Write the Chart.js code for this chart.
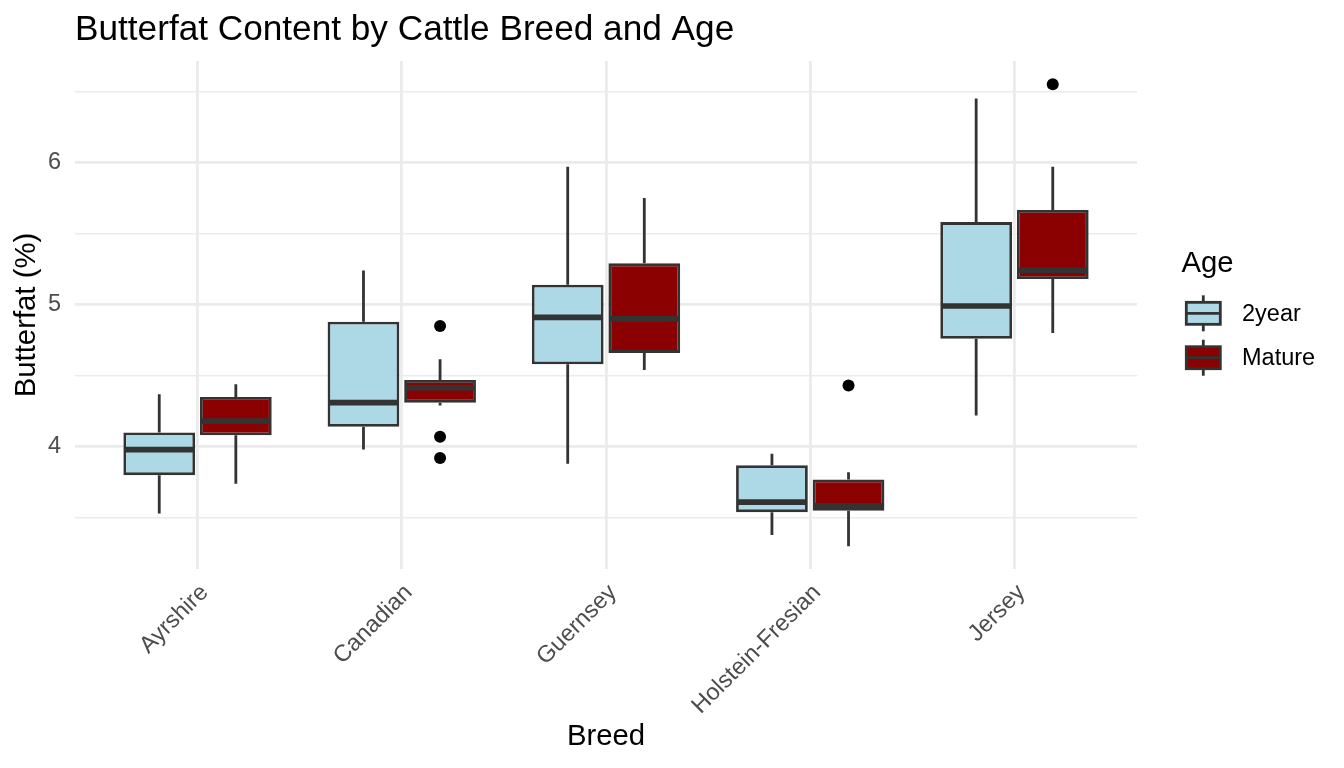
<!DOCTYPE html>
<html lang="en">
<head>
<meta charset="utf-8">
<title>Butterfat Content by Cattle Breed and Age</title>
<script src="https://cdn.jsdelivr.net/npm/chart.js"></script>
<style>
    html, body {
        margin: 0;
        padding: 0;
        background: #ffffff;
    }

    .chart-wrap {
        width: 1344px;
        height: 768px;
    }
</style>
</head>
<body>
<div class="chart-wrap">
    <canvas id="butterfatChart"></canvas>
</div>

<script>
    // categories
    const breeds = ['Ayrshire', 'Canadian', 'Guernsey', 'Holstein-Fresian', 'Jersey'];
    const ages = ['2year', 'Mature'];

    // box summaries, 2year cows
    const lo2year  = [3.53, 3.98, 3.88, 3.38, 4.22];
    const q1_2year = [3.80, 4.14, 4.58, 3.54, 4.76];
    const med2year = [3.98, 4.31, 4.91, 3.61, 4.99];
    const q3_2year = [4.10, 4.88, 5.14, 3.87, 5.58];
    const hi2year  = [4.37, 5.24, 5.97, 3.95, 6.45];
    const out2year = [[], [], [], [], []];

    // box summaries, mature cows
    const loMature  = [3.74, 4.29, 4.54, 3.30, 4.80];
    const q1Mature  = [4.08, 4.31, 4.66, 3.55, 5.18];
    const medMature = [4.18, 4.415, 4.90, 3.585, 5.24];
    const q3Mature  = [4.35, 4.47, 5.29, 3.77, 5.665];
    const hiMature  = [4.44, 4.615, 5.75, 3.82, 5.97];
    const outMature = [[], [4.85, 4.07, 3.92], [], [4.43], [6.55]];

    // y axis gridlines and labels
    const yGrid = [3.5, 4, 4.5, 5, 5.5, 6, 6.5];
    const yLabels = [4, 5, 6];

    const ageColors = ['#ADD8E6', '#8B0000'];
    const lineColor = '#333333';
    const dodge = 0.1875;        // half of the dodge width
    const halfBox = 0.16875;     // half box width in category units
    const lineW = 2.8;

    Chart.defaults.font.family = '"Liberation Sans", Arial, sans-serif';

    const summaries = [
        { lo: lo2year, q1: q1_2year, med: med2year, q3: q3_2year, hi: hi2year, out: out2year },
        { lo: loMature, q1: q1Mature, med: medMature, q3: q3Mature, hi: hiMature, out: outMature }
    ];

    const boxSets = [], whiskerSets = [], medianSets = [], outlierSets = [];

    summaries.forEach((s, a) => {
        const shift = a === 0 ? -dodge : dodge;
        const xs = breeds.map((b, i) => i + 1 + shift);

        boxSets.push({
            type: 'bar',
            label: ages[a],
            data: xs.map((x, i) => ({ x: x, y: [s.q1[i], s.q3[i]] })),
            backgroundColor: ageColors[a],
            borderColor: lineColor,
            borderWidth: lineW,
            borderSkipped: false,
            grouped: false,
            barPercentage: 0.937,
            categoryPercentage: 1,
            order: 2
        });

        const whisk = [];
        xs.forEach((x, i) => {
            whisk.push({ x: x, y: s.q3[i] }, { x: x, y: s.hi[i] }, { x: x, y: null });
            whisk.push({ x: x, y: s.q1[i] }, { x: x, y: s.lo[i] }, { x: x, y: null });
        });
        whiskerSets.push({
            type: 'line',
            label: ages[a] + ' whiskers',
            data: whisk,
            borderColor: lineColor,
            borderWidth: lineW,
            pointRadius: 0,
            spanGaps: false,
            order: 3
        });

        const med = [];
        xs.forEach((x, i) => {
            med.push({ x: x - halfBox, y: s.med[i] }, { x: x + halfBox, y: s.med[i] }, { x: x + halfBox, y: null });
        });
        medianSets.push({
            type: 'line',
            label: ages[a] + ' median',
            data: med,
            borderColor: lineColor,
            borderWidth: 5.7,
            borderCapStyle: 'butt',
            pointRadius: 0,
            spanGaps: false,
            order: 1
        });

        const pts = [];
        xs.forEach((x, i) => s.out[i].forEach(v => pts.push({ x: x, y: v })));
        outlierSets.push({
            type: 'line',
            label: ages[a] + ' outliers',
            data: pts,
            showLine: false,
            pointRadius: 6,
            pointBackgroundColor: '#000000',
            pointBorderWidth: 0,
            order: 0
        });
    });

    // ggplot style legend drawn to the right of the panel
    const ageLegend = {
        id: 'ageLegend',
        afterDraw(chart) {
            const { ctx, chartArea } = chart;
            const x0 = chartArea.right;
            const cy = (chartArea.top + chartArea.bottom) / 2;
            ctx.save();
            ctx.textAlign = 'left';
            ctx.textBaseline = 'middle';
            ctx.fillStyle = '#000000';
            ctx.font = '29.3px "Liberation Sans", Arial, sans-serif';
            ctx.fillText('Age', x0 + 44.5, cy - 51);

            ages.forEach((age, i) => {
                const kx = x0 + 66.3;
                const ky = cy - 1.7 + i * 44.4;
                ctx.strokeStyle = lineColor;
                ctx.lineWidth = lineW;
                ctx.beginPath();
                ctx.moveTo(kx, ky - 18);
                ctx.lineTo(kx, ky + 18);
                ctx.stroke();
                ctx.fillStyle = chart.data.datasets[i].backgroundColor;
                ctx.fillRect(kx - 17, ky - 11, 34, 22);
                ctx.strokeRect(kx - 17, ky - 11, 34, 22);
                ctx.beginPath();
                ctx.moveTo(kx - 17, ky);
                ctx.lineTo(kx + 17, ky);
                ctx.stroke();

                ctx.fillStyle = '#000000';
                ctx.font = '23.5px "Liberation Sans", Arial, sans-serif';
                ctx.fillText(age, x0 + 105, ky + 1);
            });
            ctx.restore();
        }
    };

    new Chart(document.getElementById('butterfatChart'), {
        type: 'bar',
        data: {
            datasets: [...boxSets, ...whiskerSets, ...medianSets, ...outlierSets]
        },
        options: {
            responsive: true,
            maintainAspectRatio: false,
            animation: false,
            layout: { padding: { left: 0, top: 0, right: 207, bottom: 0 } },
            plugins: {
                legend: { display: false },
                tooltip: { enabled: false },
                title: {
                    display: true,
                    text: 'Butterfat Content by Cattle Breed and Age',
                    align: 'start',
                    fullSize: false,
                    color: '#000000',
                    font: { size: 35.2, weight: 'normal' },
                    padding: { top: 8.7, bottom: 10.1 }
                }
            },
            scales: {
                x: {
                    type: 'linear',
                    min: 0.4,
                    max: 5.6,
                    offset: false,
                    afterBuildTicks: s => { s.ticks = breeds.map((b, i) => ({ value: i + 1 })); },
                    afterFit: s => { s.height = 199; },
                    ticks: {
                        callback: v => breeds[v - 1],
                        autoSkip: false,
                        minRotation: 45,
                        maxRotation: 45,
                        color: '#4D4D4D',
                        font: { size: 23.5 },
                        padding: 10,
                        labelOffset: 7
                    },
                    grid: { color: '#EBEBEB', lineWidth: 2.8, drawTicks: false, offset: false },
                    border: { display: false },
                    title: {
                        display: true,
                        text: 'Breed',
                        color: '#000000',
                        font: { size: 29.3 },
                        padding: { top: 0, bottom: 14 }
                    }
                },
                y: {
                    min: 3.14,
                    max: 6.713,
                    afterBuildTicks: s => { s.ticks = yGrid.map(v => ({ value: v })); },
                    afterFit: s => { s.width = 75; },
                    ticks: {
                        callback: v => yLabels.includes(v) ? String(v) : '',
                        color: '#4D4D4D',
                        font: { size: 23.5 },
                        padding: 14
                    },
                    grid: {
                        color: '#EBEBEB',
                        lineWidth: c => (c.tick && Number.isInteger(c.tick.value)) ? 2.8 : 1.4,
                        drawTicks: false
                    },
                    border: { display: false },
                    title: {
                        display: true,
                        text: 'Butterfat (%)',
                        color: '#000000',
                        font: { size: 29.3 },
                        padding: { top: 9, bottom: 0 }
                    }
                }
            }
        },
        plugins: [ageLegend]
    });
</script>
</body>
</html>
